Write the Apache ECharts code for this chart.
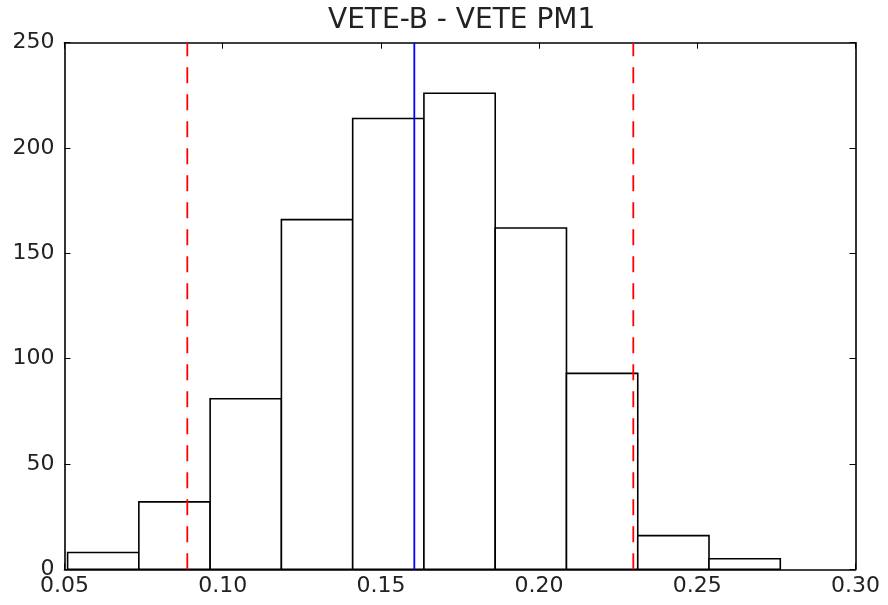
<!DOCTYPE html>
<html>
<head>
<meta charset="utf-8">
<script src="https://cdn.jsdelivr.net/npm/echarts@6/dist/echarts.min.js"></script>
<style>html,body{margin:0;padding:0;background:#fff}#c{width:888px;height:605px}</style>
</head>
<body>
<div id="c"></div>
<script>
// Histogram bin edges and counts
var binEdges = [0.05098, 0.07350, 0.09603, 0.11855, 0.14108, 0.16360, 0.18613, 0.20865, 0.23118, 0.25370, 0.27623];
var counts = [8, 32, 81, 166, 214, 226, 162, 93, 16, 5];
// Reference lines
var redLines = [0.08881, 0.22977];
var blueLine = [0.16056];
var xTicks = [0.05, 0.10, 0.15, 0.20, 0.25, 0.30];
var yTicks = [0, 50, 100, 150, 200, 250];

var barData = counts.map(function (c, i) { return [binEdges[i], binEdges[i + 1], c]; });

var font = 'DejaVu Sans';
var chart = echarts.init(document.getElementById('c'), null, { renderer: 'canvas' });

function vline(x, color, type) {
  return {
    type: 'line', xAxisIndex: 0, yAxisIndex: 0, symbol: 'none', silent: true,
    data: [[x, 0], [x, 250]],
    lineStyle: { color: color, width: 1.8, type: type },
    z: 5
  };
}

var option = {
  animation: false,
  backgroundColor: '#fff',
  title: {
    text: 'VETE-B - VETE PM1', left: 323, top: 2,
    textStyle: { fontFamily: font, fontSize: 28, fontWeight: 'normal', color: '#222' }
  },
  grid: { left: 64.5, right: 32.5, top: 42.7, bottom: 35.7, show: false },
  xAxis: [{
    type: 'value', min: 0.05, max: 0.30, interval: 0.05, position: 'bottom',
    axisLine: { show: true, onZero: false, lineStyle: { color: '#000', width: 1.6 } },
    axisTick: { show: true, inside: true, length: 6, lineStyle: { color: '#000', width: 1 } },
    axisLabel: { fontFamily: font, fontSize: 22, color: '#222', margin: 6,
      formatter: function (v) { return v.toFixed(2); } },
    splitLine: { show: false }
  }, {
    type: 'value', min: 0.05, max: 0.30, interval: 0.05, position: 'top',
    axisLine: { show: true, onZero: false, lineStyle: { color: '#000', width: 1.6 } },
    axisTick: { show: true, inside: true, length: 6, lineStyle: { color: '#000', width: 1 } },
    axisLabel: { show: false }, splitLine: { show: false }
  }],
  yAxis: [{
    type: 'value', min: 0, max: 250, interval: 50, position: 'left',
    axisLine: { show: true, onZero: false, lineStyle: { color: '#000', width: 1.6 } },
    axisTick: { show: true, inside: true, length: 6, lineStyle: { color: '#000', width: 1 } },
    axisLabel: { fontFamily: font, fontSize: 22, color: '#222', margin: 10 },
    splitLine: { show: false }
  }, {
    type: 'value', min: 0, max: 250, interval: 50, position: 'right',
    axisLine: { show: true, onZero: false, lineStyle: { color: '#000', width: 1.6 } },
    axisTick: { show: true, inside: true, length: 6, lineStyle: { color: '#000', width: 1 } },
    axisLabel: { show: false }, splitLine: { show: false }
  }],
  series: [{
    type: 'custom', xAxisIndex: 0, yAxisIndex: 0,
    data: barData,
    renderItem: function (params, api) {
      var p0 = api.coord([api.value(0), api.value(2)]);
      var p1 = api.coord([api.value(1), 0]);
      return {
        type: 'rect',
        shape: { x: p0[0], y: p0[1], width: p1[0] - p0[0], height: p1[1] - p0[1] },
        style: { fill: '#fff', stroke: '#000', lineWidth: 1.6 }
      };
    },
    z: 2
  },
  vline(redLines[0], '#ff0000', [16, 11]),
  vline(redLines[1], '#ff0000', [16, 11]),
  vline(blueLine[0], '#0000ff', 'solid')
  ]
};
chart.setOption(option);
</script>
</body>
</html>
